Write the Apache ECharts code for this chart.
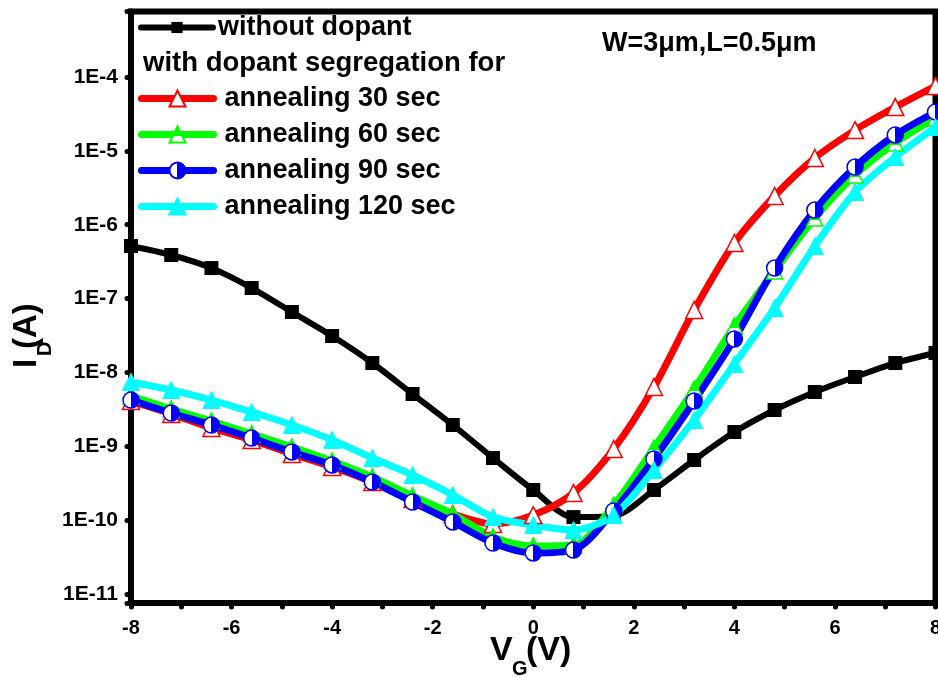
<!DOCTYPE html>
<html>
<head>
<meta charset="utf-8">
<script src="https://cdn.jsdelivr.net/npm/echarts@6/dist/echarts.min.js"></script>
<style>html,body{margin:0;padding:0;background:#fff}#c{width:938px;height:677px}</style>
</head>
<body>
<div id="c"></div>
<script>
// Gate voltage (V)
const vg = [-8, -7.2, -6.4, -5.6, -4.8, -4, -3.2, -2.4, -1.6, -0.8, 0, 0.8, 1.6, 2.4, 3.2, 4, 4.8, 5.6, 6.4, 7.2, 8];
// Drain current (A)
const withoutDopant = [5.15e-7, 3.89e-7, 2.59e-7, 1.39e-7, 6.58e-8, 3.11e-8, 1.34e-8, 5.10e-9, 1.94e-9, 6.94e-10, 2.56e-10, 1.10e-10, 1.14e-10, 2.56e-10, 6.52e-10, 1.56e-9, 3.10e-9, 5.43e-9, 8.67e-9, 1.34e-8, 1.83e-8];
const anneal30 = [4.10e-9, 2.74e-9, 1.77e-9, 1.22e-9, 7.86e-10, 5.24e-10, 3.28e-10, 1.93e-10, 1.21e-10, 8.87e-11, 1.17e-10, 2.33e-10, 9.19e-10, 6.35e-9, 7.00e-8, 5.65e-7, 2.45e-6, 8.00e-6, 1.91e-5, 3.92e-5, 7.55e-5];
const anneal60 = [4.79e-9, 3.20e-9, 2.20e-9, 1.47e-9, 9.77e-10, 6.32e-10, 3.84e-10, 2.12e-10, 1.21e-10, 5.91e-11, 4.47e-11, 4.61e-11, 1.60e-10, 9.48e-10, 5.96e-9, 4.25e-8, 2.36e-7, 1.23e-6, 4.71e-6, 1.28e-5, 2.78e-5];
const anneal90 = [4.23e-9, 2.82e-9, 1.94e-9, 1.29e-9, 8.37e-10, 5.58e-10, 3.28e-10, 1.76e-10, 9.44e-11, 4.90e-11, 3.59e-11, 3.94e-11, 1.33e-10, 6.73e-10, 4.10e-9, 2.83e-8, 2.59e-7, 1.58e-6, 6.04e-6, 1.64e-5, 3.36e-5];
const anneal120 = [7.42e-9, 5.78e-9, 4.23e-9, 2.91e-9, 1.94e-9, 1.22e-9, 6.94e-10, 4.08e-10, 2.19e-10, 1.10e-10, 8.59e-11, 7.35e-11, 1.17e-10, 4.77e-10, 2.27e-9, 1.30e-8, 7.45e-8, 5.15e-7, 2.77e-6, 8.25e-6, 2.10e-5];
// Labels
const seriesNames = ['without dopant', 'annealing 30 sec', 'annealing 60 sec', 'annealing 90 sec', 'annealing 120 sec'];
const legendHeader = 'with dopant segregation for';
const annotation = 'W=3\u03bcm,L=0.5\u03bcm';
const yTickExponents = [-11, -10, -9, -8, -7, -6, -5, -4];

const FONT = '"Liberation Sans", Arial, sans-serif';
const pairs = arr => vg.map((x, i) => [x, arr[i]]);

const halfH = (c1, c2) => ({type: 'linear', x: 0, y: 0, x2: 1, y2: 0,
  colorStops: [{offset: 0, color: c1}, {offset: 0.5, color: c1}, {offset: 0.5, color: c2}, {offset: 1, color: c2}]});
const halfV = (c1, c2) => ({type: 'linear', x: 0, y: 0, x2: 0, y2: 1,
  colorStops: [{offset: 0, color: c1}, {offset: 0.6, color: c1}, {offset: 0.6, color: c2}, {offset: 1, color: c2}]});

function mk(name, data, color, lw, symbol, size, itemStyle) {
  return {
    name, type: 'line', data: pairs(data), smooth: 0.3,
    symbol, symbolSize: size, showAllSymbol: true,
    lineStyle: {color, width: lw},
    itemStyle, emphasis: {disabled: true}, z: 3
  };
}

const chart = echarts.init(document.getElementById('c'), null, {renderer: 'canvas'});
const textBase = {fontFamily: FONT, fontWeight: 'bold', color: '#000'};
const txt = (x, y, text, size, extra) => Object.assign({type: 'text', x, y, style: {text, font: 'bold ' + size + 'px ' + FONT, fill: '#000',
  align: 'left', verticalAlign: 'middle', textAlign: 'left', textVerticalAlign: 'middle'}}, extra || {});
chart.setOption({
  animation: false,
  backgroundColor: '#fff',
  grid: {left: 131, right: 2.5, top: 11.5, bottom: 74, outerBoundsMode: 'none', containLabel: false,
    show: true, borderColor: '#000', borderWidth: 6, backgroundColor: 'transparent'},
  xAxis: {
    type: 'value', min: -8, max: 8, interval: 2,
    axisLine: {onZero: false, lineStyle: {color: '#000', width: 6}},
    axisTick: {show: true, inside: false, length: 4, lineStyle: {color: '#000', width: 5, cap: 'round'}},
    minorTick: {show: true, splitNumber: 2, length: 4, lineStyle: {color: '#000', width: 5, cap: 'round'}},
    splitLine: {show: false},
    axisLabel: Object.assign({fontSize: 20, margin: 15, hideOverlap: false}, textBase)
  },
  yAxis: {
    type: 'log', logBase: 10, min: Math.pow(10, -11.122), max: Math.pow(10, -3.113), splitNumber: 8,
    axisLine: {onZero: false, lineStyle: {color: '#000', width: 6}},
    axisTick: {show: true, inside: false, length: 4, lineStyle: {color: '#000', width: 5, cap: 'round'}},
    splitLine: {show: false},
    axisLabel: Object.assign({fontSize: 21, margin: 13, formatter: v => {
      const e = Math.log10(v); const r = Math.round(e);
      if (Math.abs(e - r) > 0.01 || yTickExponents.indexOf(r) < 0) return '';
      return '1E' + r;
    }}, textBase)
  },
  legend: [
    {data: [seriesNames[0]], left: 138, top: 14, padding: 0, itemWidth: 72, itemHeight: 14,
     lineStyle: {width: 6, cap: 'round'},
     textStyle: Object.assign({fontSize: 27, lineHeight: 24, padding: [0, 0, 0, 0]}, textBase), selectedMode: false},
    {data: seriesNames.slice(1), orient: 'vertical', left: 138, top: 85, padding: 0, itemGap: 9, itemWidth: 72, itemHeight: 20,
     lineStyle: {width: 7, cap: 'round'},
     textStyle: Object.assign({fontSize: 27, lineHeight: 24, padding: [0, 0, 0, 6]}, textBase), selectedMode: false}
  ],
  graphic: [
    txt(143, 63, legendHeader, 27.5),
    txt(602, 44, annotation, 27),
    txt(490, 651, 'V', 34),
    txt(512, 669, 'G', 20),
    txt(526, 651, '(V)', 34),
    txt(26.5, 368, 'I', 33, {rotation: Math.PI / 2}),
    txt(45, 356, 'D', 20, {rotation: Math.PI / 2}),
    txt(26.5, 349, '(A)', 33, {rotation: Math.PI / 2})
  ],
  series: [
    mk(seriesNames[0], withoutDopant, '#000000', 6, 'rect', 14, {color: '#000'}),
    mk(seriesNames[1], anneal30, '#ff0000', 7, 'triangle', 17, {color: '#ffffff', borderColor: '#ff0000', borderWidth: 1.5}),
    mk(seriesNames[2], anneal60, '#00ff00', 7, 'triangle', 16, {color: halfV('#00ff00', '#ffffff'), borderColor: '#00ff00', borderWidth: 1.5}),
    mk(seriesNames[3], anneal90, '#0000ff', 7, 'circle', 16, {color: halfH('#ffffff', '#0000ff'), borderColor: '#0000ff', borderWidth: 1.5}),
    mk(seriesNames[4], anneal120, '#00ffff', 7, 'triangle', 17, {color: '#00ffff', borderColor: '#00ffff', borderWidth: 1})
  ]
});
</script>
</body>
</html>
